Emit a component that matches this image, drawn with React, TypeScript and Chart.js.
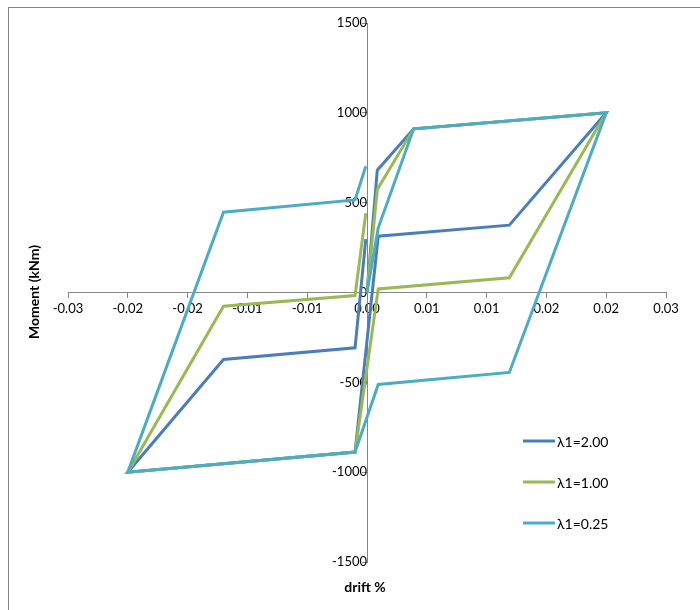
import React, { useEffect, useRef } from "react";
import { Chart, registerables } from "chart.js";

Chart.register(...registerables);

// ---- data ----
const seriesNames = ["λ1=2.00", "λ1=1.00", "λ1=0.25"];
const seriesColors = ["#4A7EBB", "#98B954", "#4BACC6"];

const drift200 = [0, 0.00086, 0.0039, 0.02, 0.0119, 0.00094, -0.001, -0.02, -0.012, -0.001, -0.0001];
const moment200 = [0, 681, 911, 1000, 375, 313, -888, -1000, -373, -308, 297];

const drift100 = [0, 0.00086, 0.0039, 0.02, 0.0119, 0.00094, -0.001, -0.02, -0.012, -0.001, -0.0001];
const moment100 = [0, 573, 911, 1000, 82, 20, -888, -1000, -76, -17, 442];

const drift025 = [0, 0.00094, 0.0039, 0.02, 0.0119, 0.00094, -0.001, -0.02, -0.012, -0.001, -0.0001];
const moment025 = [0, 360, 911, 1000, -445, -512, -888, -1000, 447, 515, 703];

const xTickValues = [-0.025, -0.02, -0.015, -0.01, -0.005, 0, 0.005, 0.01, 0.015, 0.02, 0.025];
const xTickLabels = ["-0.03", "-0.02", "-0.02", "-0.01", "-0.01", "0.00", "0.01", "0.01", "0.02", "0.02", "0.03"];
const yTickValues = [-1500, -1000, -500, 0, 500, 1000, 1500];

const xTitle = "drift %";
const yTitle = "Moment (kNm)";

const FONT = 'Lato, "DejaVu Sans", sans-serif';
const AXIS_COLOR = "#868686";

function toPoints(xs: number[], ys: number[]) {
  return xs.map((x, i) => ({ x, y: ys[i] }));
}

const overlayPlugin = {
  id: "overlay",
  afterDraw(chart: any) {
    const ctx = chart.ctx as CanvasRenderingContext2D;
    const area = chart.chartArea;
    ctx.save();
    ctx.fillStyle = "#000";
    ctx.font = `bold 14px ${FONT}`;
    ctx.textAlign = "center";
    ctx.textBaseline = "middle";
    ctx.fillText(xTitle, (area.left + area.right) / 2 - 2, 579);
    ctx.save();
    ctx.translate(25, 284);
    ctx.rotate(-Math.PI / 2);
    ctx.fillText(yTitle, 0, 0);
    ctx.restore();

    // legend
    const legendX = 514;
    const legendY = [433, 474, 515];
    ctx.font = `14px ${FONT}`;
    ctx.textAlign = "left";
    seriesNames.forEach((name, i) => {
      ctx.strokeStyle = seriesColors[i];
      ctx.lineWidth = 3;
      ctx.lineCap = "butt";
      ctx.beginPath();
      ctx.moveTo(legendX, legendY[i]);
      ctx.lineTo(legendX + 32, legendY[i]);
      ctx.stroke();
      ctx.fillStyle = "#000";
      ctx.fillText(name, legendX + 34, legendY[i] + 1);
    });
    ctx.restore();
  },
};

export default function App() {
  const canvasRef = useRef<HTMLCanvasElement | null>(null);

  useEffect(() => {
    if (!canvasRef.current) return;
    const seriesData = [
      toPoints(drift200, moment200),
      toPoints(drift100, moment100),
      toPoints(drift025, moment025),
    ];
    const chart = new Chart(canvasRef.current, {
      type: "scatter",
      data: {
        datasets: seriesNames.map((name, i) => ({
          label: name,
          data: seriesData[i],
          showLine: true,
          borderColor: seriesColors[i],
          backgroundColor: seriesColors[i],
          borderWidth: 3,
          pointRadius: 0,
          pointHoverRadius: 0,
          tension: 0,
          fill: false,
          order: 3 - i,
        })),
      },
      options: {
        animation: false,
        responsive: false,
        devicePixelRatio: 1,
        layout: { padding: { left: 59, right: 34, top: 15, bottom: 48 } },
        plugins: {
          legend: { display: false },
          title: { display: false },
          tooltip: { enabled: false },
        },
        scales: {
          x: {
            type: "linear",
            position: { y: 0 } as any,
            min: -0.025,
            max: 0.025,
            afterBuildTicks: (scale: any) => {
              scale.ticks = xTickValues.map((value) => ({ value }));
            },
            ticks: {
              autoSkip: false,
              maxRotation: 0,
              padding: 4,
              color: "#000",
              font: { family: FONT, size: 13 },
              callback: (_v: any, i: number) => xTickLabels[i],
            },
            grid: {
              drawOnChartArea: false,
              drawTicks: true,
              tickLength: 5,
              color: AXIS_COLOR,
            },
            border: { display: true, color: AXIS_COLOR, width: 1 },
          },
          y: {
            type: "linear",
            position: { x: 0 } as any,
            min: -1500,
            max: 1500,
            afterBuildTicks: (scale: any) => {
              scale.ticks = yTickValues.map((value) => ({ value }));
            },
            ticks: {
              autoSkip: false,
              padding: 4,
              color: "#000",
              font: { family: FONT, size: 13 },
              callback: (v: any) => String(v),
            },
            grid: {
              drawOnChartArea: false,
              drawTicks: true,
              tickLength: 5,
              color: AXIS_COLOR,
            },
            border: { display: true, color: AXIS_COLOR, width: 1 },
          },
        },
      },
      plugins: [overlayPlugin],
    });
    return () => chart.destroy();
  }, []);

  return (
    <div
      style={{
        position: "fixed",
        left: 8,
        top: 7,
        width: 691,
        height: 602,
        borderLeft: `1px solid ${AXIS_COLOR}`,
        borderTop: `1px solid ${AXIS_COLOR}`,
        overflow: "hidden",
        background: "#fff",
      }}
    >
      <canvas ref={canvasRef} width={691} height={602} style={{ display: "block" }} />
    </div>
  );
}
